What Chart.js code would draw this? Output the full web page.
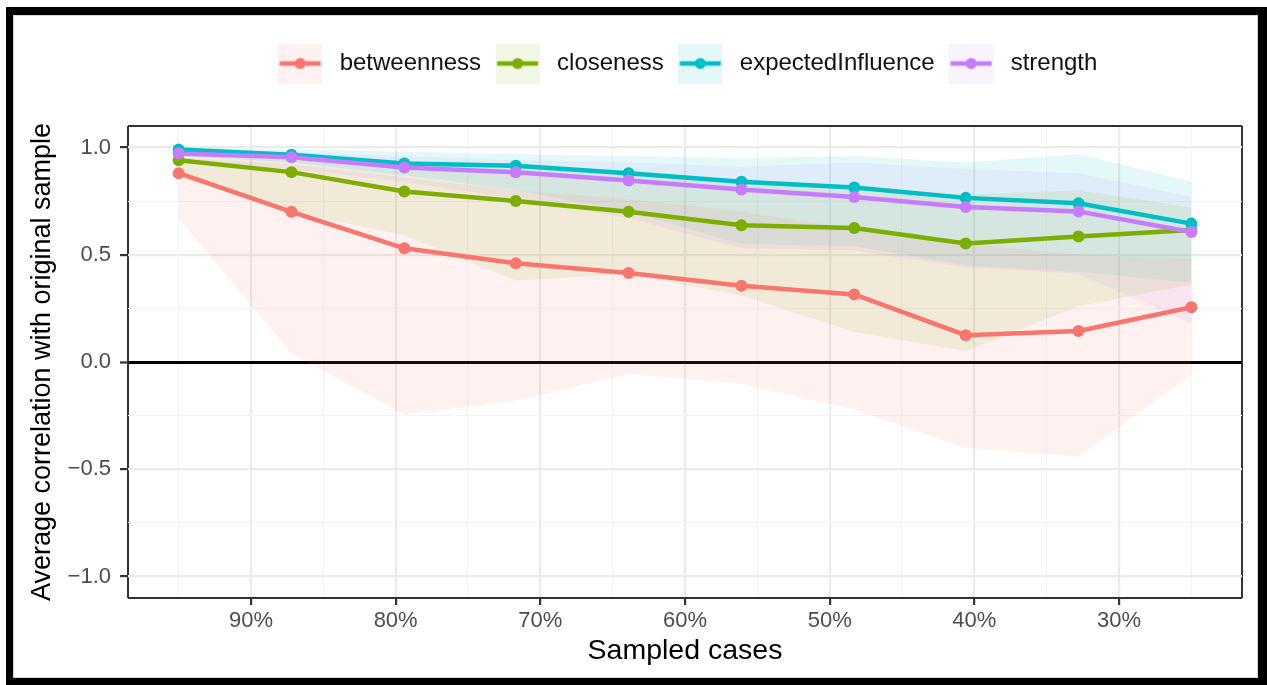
<!DOCTYPE html>
<html>
<head>
<meta charset="utf-8">
<script src="https://cdn.jsdelivr.net/npm/chart.js@4.4.1/dist/chart.umd.min.js"></script>
<style>
  html, body { margin: 0; padding: 0; background: #fff; overflow: hidden; }
  #wrap { position: relative; width: 1267px; height: 685px; }
  #frame {
    position: absolute; left: 6px; top: 7px; width: 1261px; height: 678px;
    box-sizing: border-box; border-style: solid; border-color: #000;
    border-width: 8px 9px 7px 7px; box-shadow: inset 0 0 0 1px #d4d4d4;
    pointer-events: none;
  }
</style>
</head>
<body>
<div id="wrap">
  <canvas id="myChart" width="1267" height="685"></canvas>
  <div id="frame"></div>
</div>
<script>
// sampled cases (% of cases kept)
const sampledCases = [95, 87.2, 79.4, 71.7, 63.9, 56.1, 48.3, 40.6, 32.8, 25];

const seriesNames = ['betweenness', 'closeness', 'expectedInfluence', 'strength'];

const betweenness      = [0.88, 0.70, 0.53, 0.46, 0.415, 0.355, 0.315, 0.125, 0.145, 0.255];
const betweennessLower = [0.67, 0.04, -0.245, -0.18, -0.055, -0.10, -0.22, -0.40, -0.44, -0.06];
const betweennessUpper = [0.95, 0.92, 0.86, 0.80, 0.76, 0.70, 0.62, 0.55, 0.50, 0.48];

const closeness      = [0.94, 0.885, 0.795, 0.75, 0.70, 0.637, 0.625, 0.552, 0.585, 0.615];
const closenessLower = [0.86, 0.70, 0.59, 0.38, 0.41, 0.31, 0.14, 0.05, 0.26, 0.36];
const closenessUpper = [0.98, 0.96, 0.93, 0.91, 0.88, 0.84, 0.82, 0.78, 0.80, 0.72];

const expectedInfluence      = [0.99, 0.966, 0.925, 0.915, 0.88, 0.84, 0.813, 0.765, 0.74, 0.645];
const expectedInfluenceLower = [0.96, 0.93, 0.87, 0.80, 0.70, 0.55, 0.54, 0.45, 0.42, 0.37];
const expectedInfluenceUpper = [1.0, 0.99, 0.98, 0.97, 0.96, 0.95, 0.96, 0.93, 0.97, 0.84];

const strength      = [0.972, 0.954, 0.907, 0.884, 0.846, 0.804, 0.769, 0.722, 0.702, 0.606];
const strengthLower = [0.94, 0.90, 0.84, 0.76, 0.67, 0.53, 0.52, 0.44, 0.41, 0.18];
const strengthUpper = [0.99, 0.98, 0.96, 0.94, 0.93, 0.91, 0.93, 0.90, 0.88, 0.77];

// axis ticks
const xMajorTicks = [90, 80, 70, 60, 50, 40, 30];
const xMinorTicks = [95, 85, 75, 65, 55, 45, 35, 25];
const yMajorTicks = [-1, -0.5, 0, 0.5, 1];
const yMinorTicks = [-0.75, -0.25, 0.25, 0.75];
const xLimits = [21.5, 98.5];
const yLimits = [-1.1, 1.1];

const lineColors = ['#F8766D', '#7CAE00', '#00BFC4', '#C77CFF'];
const bandColors = ['rgba(248,118,109,0.1)', 'rgba(124,174,0,0.1)', 'rgba(0,191,196,0.1)', 'rgba(199,124,255,0.1)'];

const means = [betweenness, closeness, expectedInfluence, strength];
const lowers = [betweennessLower, closenessLower, expectedInfluenceLower, strengthLower];
const uppers = [betweennessUpper, closenessUpper, expectedInfluenceUpper, strengthUpper];

function toPoints(values) {
    return sampledCases.map((x, i) => ({x: x, y: values[i]}));
}

function makeKey(color, fill) {
    const c = document.createElement('canvas');
    c.width = 44;
    c.height = 40;
    const g = c.getContext('2d');
    g.fillStyle = fill;
    g.fillRect(0, 0, 44, 40);
    g.strokeStyle = color;
    g.lineWidth = 4.5;
    g.beginPath();
    g.moveTo(1.5, 20);
    g.lineTo(42.5, 20);
    g.stroke();
    g.fillStyle = color;
    g.beginPath();
    g.arc(22, 20, 5.5, 0, Math.PI * 2);
    g.fill();
    return c;
}
const legendKeys = lineColors.map((c, i) => makeKey(c, bandColors[i]));

const datasets = [];
// ribbons: lower bound then upper filled down to it
seriesNames.forEach((name, i) => {
    datasets.push({
        label: name + ' lower',
        data: toPoints(lowers[i]),
        borderWidth: 0,
        pointRadius: 0,
        fill: false,
        order: 20
    });
    datasets.push({
        label: name + ' upper',
        data: toPoints(uppers[i]),
        borderWidth: 0,
        pointRadius: 0,
        backgroundColor: bandColors[i],
        fill: {target: 2 * i},
        order: 20
    });
});
// lines, later series drawn on top
seriesNames.forEach((name, i) => {
    datasets.push({
        label: name,
        data: toPoints(means[i]),
        borderColor: lineColors[i],
        backgroundColor: lineColors[i],
        borderWidth: 4.5,
        pointRadius: 6,
        pointBorderWidth: 0,
        pointBackgroundColor: lineColors[i],
        fill: false,
        order: 10 - i
    });
});

const isIn = (arr, v) => arr.some(a => Math.abs(a - v) < 1e-9);
const isEdge = (lim, v) => isIn(lim, v);

const legendGap = {
    id: 'legendGap',
    beforeUpdate(chart) {
        const lg = chart.legend;
        if (lg && !lg._gapWrapped) {
            const fit = lg.fit;
            lg.fit = function () {
                fit.call(this);
                this.height += 40.5;
            };
            lg._gapWrapped = true;
        }
    }
};

const fontFamily = '"Liberation Sans", Arial, Helvetica, sans-serif';

const config = {
    type: 'line',
    data: {datasets: datasets},
    plugins: [legendGap],
    options: {
        responsive: false,
        animation: false,
        devicePixelRatio: 1,
        events: [],
        layout: {padding: {top: 42.5, left: 0, right: 25, bottom: 0}},
        elements: {line: {tension: 0}},
        plugins: {
            filler: {drawTime: 'beforeDatasetsDraw'},
            tooltip: {enabled: false},
            legend: {
                position: 'top',
                fullSize: false,
                labels: {
                    usePointStyle: true,
                    pointStyleWidth: 55,
                    boxHeight: 24,
                    padding: 9,
                    color: '#111111',
                    font: {family: fontFamily, size: 24},
                    generateLabels: () => seriesNames.map((name, i) => ({
                        text: name,
                        pointStyle: legendKeys[i],
                        fillStyle: 'rgba(0,0,0,0)',
                        strokeStyle: 'rgba(0,0,0,0)',
                        lineWidth: 0,
                        hidden: false,
                        fontColor: '#111111',
                        datasetIndex: 8 + i
                    }))
                }
            }
        },
        scales: {
            x: {
                type: 'linear',
                reverse: true,
                min: xLimits[0],
                max: xLimits[1],
                afterBuildTicks: scale => {
                    scale.ticks = [...xLimits, ...xMajorTicks, ...xMinorTicks]
                        .sort((a, b) => a - b)
                        .map(v => ({value: v}));
                },
                afterFit: scale => { scale.height = 87; },
                border: {display: false},
                grid: {
                    z: -2,
                    tickLength: 7,
                    color: c => isEdge(xLimits, c.tick.value) ? '#333333' : (isIn(xMajorTicks, c.tick.value) ? '#EBEBEB' : '#F3F3F3'),
                    lineWidth: c => isEdge(xLimits, c.tick.value) ? 2 : (isIn(xMajorTicks, c.tick.value) ? 2.2 : 1.1),
                    tickColor: c => isIn(xMajorTicks, c.tick.value) ? '#333333' : 'rgba(0,0,0,0)',
                    tickWidth: 2.2
                },
                ticks: {
                    autoSkip: false,
                    maxRotation: 0,
                    padding: 3,
                    color: '#4D4D4D',
                    font: {family: fontFamily, size: 22},
                    callback: v => isIn(xMajorTicks, v) ? v + '%' : ''
                },
                title: {
                    display: true,
                    text: 'Sampled cases',
                    color: '#000000',
                    font: {family: fontFamily, size: 28.5},
                    padding: {top: 0, bottom: 17}
                }
            },
            y: {
                type: 'linear',
                min: yLimits[0],
                max: yLimits[1],
                afterBuildTicks: scale => {
                    scale.ticks = [...yLimits, ...yMajorTicks, ...yMinorTicks]
                        .sort((a, b) => a - b)
                        .map(v => ({value: v}));
                },
                afterFit: scale => { scale.width = 128; },
                border: {display: false},
                grid: {
                    z: -1,
                    tickLength: 8,
                    color: c => {
                        const v = c.tick.value;
                        if (isEdge(yLimits, v)) return '#333333';
                        if (Math.abs(v) < 1e-9) return '#000000';
                        return isIn(yMajorTicks, v) ? '#EBEBEB' : '#F3F3F3';
                    },
                    lineWidth: c => {
                        const v = c.tick.value;
                        if (isEdge(yLimits, v)) return 2;
                        if (Math.abs(v) < 1e-9) return 3;
                        return isIn(yMajorTicks, v) ? 2.2 : 1.1;
                    },
                    tickColor: c => isIn(yMajorTicks, c.tick.value) ? '#333333' : 'rgba(0,0,0,0)',
                    tickWidth: 2.2
                },
                ticks: {
                    autoSkip: false,
                    padding: 9,
                    color: '#4D4D4D',
                    font: {family: fontFamily, size: 22},
                    callback: v => isIn(yMajorTicks, v) ? v.toFixed(1).replace('-', '\u2212') : ''
                },
                title: {
                    display: true,
                    text: 'Average correlation with original sample',
                    color: '#000000',
                    font: {family: fontFamily, size: 27},
                    padding: {top: 26, bottom: 0}
                }
            }
        }
    }
};

const chart = new Chart(document.getElementById('myChart'), config);
</script>
</body>
</html>
